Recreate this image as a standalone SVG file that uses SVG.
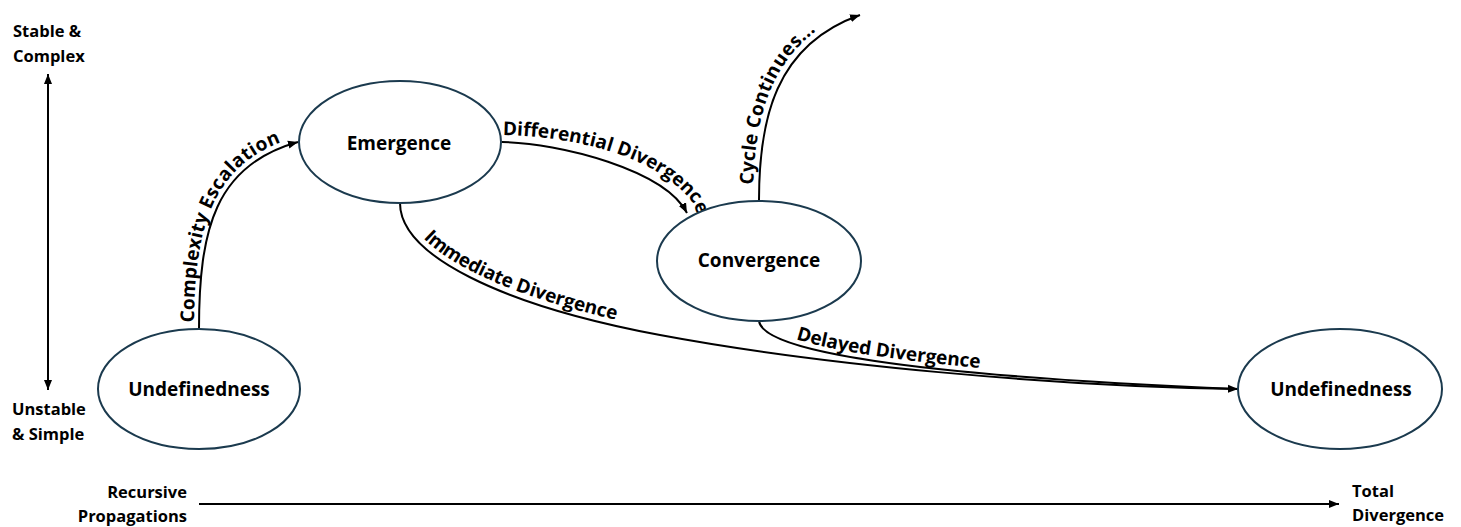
<svg xmlns="http://www.w3.org/2000/svg" xmlns:xlink="http://www.w3.org/1999/xlink" width="1461" height="527" viewBox="0 0 1461 527">
  <style>
    .node ellipse { fill: #ffffff; stroke: #1b3a4e; stroke-width: 2; }
    .nlabel { font-family: "Open Sans", "Liberation Sans", sans-serif; font-weight: 700; font-size: 19px; fill: #000; text-anchor: middle; }
    .axis { font-family: "Open Sans", "Liberation Sans", sans-serif; font-weight: 700; font-size: 16.5px; fill: #000; }
    .elabel { font-family: "Open Sans", "Liberation Sans", sans-serif; font-weight: 700; font-size: 19px; fill: #000; }
    .edge { fill: none; stroke: #000; stroke-width: 2; }
  </style>
  <defs>
    <marker id="arrow" markerUnits="userSpaceOnUse" markerWidth="11" markerHeight="10" refX="10" refY="5" orient="auto-start-reverse" viewBox="0 0 11 10">
      <path d="M0,1 L10,5 L0,9 z" fill="#000"/>
    </marker>
    <path id="p-complexity" d="M199,329 C199,230 215,165 298,142"/>
    <path id="p-differential" d="M502,142 C560,143 665,170 687,213"/>
    <path id="p-cycle" d="M759,200 C759,120 775,45 860,15"/>
    <path id="p-immediate" d="M400,203 C400,255 500,305 660,335 S1050,386 1238,389"/>
    <path id="p-delayed" d="M759,321 C763,350 900,375 1238,389"/>
    <path id="t-differential" d="M503,135 C560,136 652,150 693,203 L703,228"/>
    <path id="t-cycle" d="M759,200 C759,120 775,45 860,15 L880,10"/>
  </defs>

  <rect x="0" y="0" width="1461" height="527" fill="#ffffff"/>

  <g id="connectors">
    <use xlink:href="#p-complexity" href="#p-complexity" class="edge" marker-end="url(#arrow)"/>
    <use xlink:href="#p-differential" href="#p-differential" class="edge" marker-end="url(#arrow)"/>
    <use xlink:href="#p-cycle" href="#p-cycle" class="edge" marker-end="url(#arrow)"/>
    <use xlink:href="#p-immediate" href="#p-immediate" class="edge" marker-end="url(#arrow)"/>
    <use xlink:href="#p-delayed" href="#p-delayed" class="edge"/>
    <text class="elabel" dy="-5"><textPath xlink:href="#p-complexity" href="#p-complexity" startOffset="48%" text-anchor="middle">Complexity Escalation</textPath></text>
    <text class="elabel"><textPath xlink:href="#t-differential" href="#t-differential" startOffset="0">Differential Divergence</textPath></text>
    <text class="elabel" dy="-6"><textPath xlink:href="#t-cycle" href="#t-cycle" startOffset="15">Cycle Continues...</textPath></text>
    <text class="elabel" dy="-6"><textPath xlink:href="#p-immediate" href="#p-immediate" startOffset="45">Immediate Divergence</textPath></text>
    <text class="elabel" dy="-5"><textPath xlink:href="#p-delayed" href="#p-delayed" startOffset="44">Delayed Divergence</textPath></text>
  </g>

  <g id="axes">
    <line x1="48" y1="74" x2="48" y2="390" class="edge" marker-start="url(#arrow)" marker-end="url(#arrow)"/>
    <line x1="199" y1="504" x2="1339" y2="504" class="edge" marker-end="url(#arrow)"/>
    <text class="axis" x="13" y="37">Stable &amp;</text>
    <text class="axis" x="13" y="62">Complex</text>
    <text class="axis" x="12" y="415">Unstable</text>
    <text class="axis" x="12" y="440">&amp; Simple</text>
    <text class="axis" x="187" y="498" text-anchor="end">Recursive</text>
    <text class="axis" x="187" y="522" text-anchor="end">Propagations</text>
    <text class="axis" x="1352" y="497">Total</text>
    <text class="axis" x="1352" y="521">Divergence</text>
  </g>

  <g id="node-undefinedness-start" class="node">
    <ellipse cx="199" cy="389" rx="101" ry="60"/>
    <text class="nlabel" x="199" y="396">Undefinedness</text>
  </g>
  <g id="node-emergence" class="node">
    <ellipse cx="400" cy="142" rx="101" ry="61"/>
    <text class="nlabel" x="399" y="150">Emergence</text>
  </g>
  <g id="node-convergence" class="node">
    <ellipse cx="759" cy="261" rx="102" ry="60"/>
    <text class="nlabel" x="759" y="267">Convergence</text>
  </g>
  <g id="node-undefinedness-end" class="node">
    <ellipse cx="1340" cy="389" rx="102" ry="60"/>
    <text class="nlabel" x="1341" y="396">Undefinedness</text>
  </g>
</svg>
